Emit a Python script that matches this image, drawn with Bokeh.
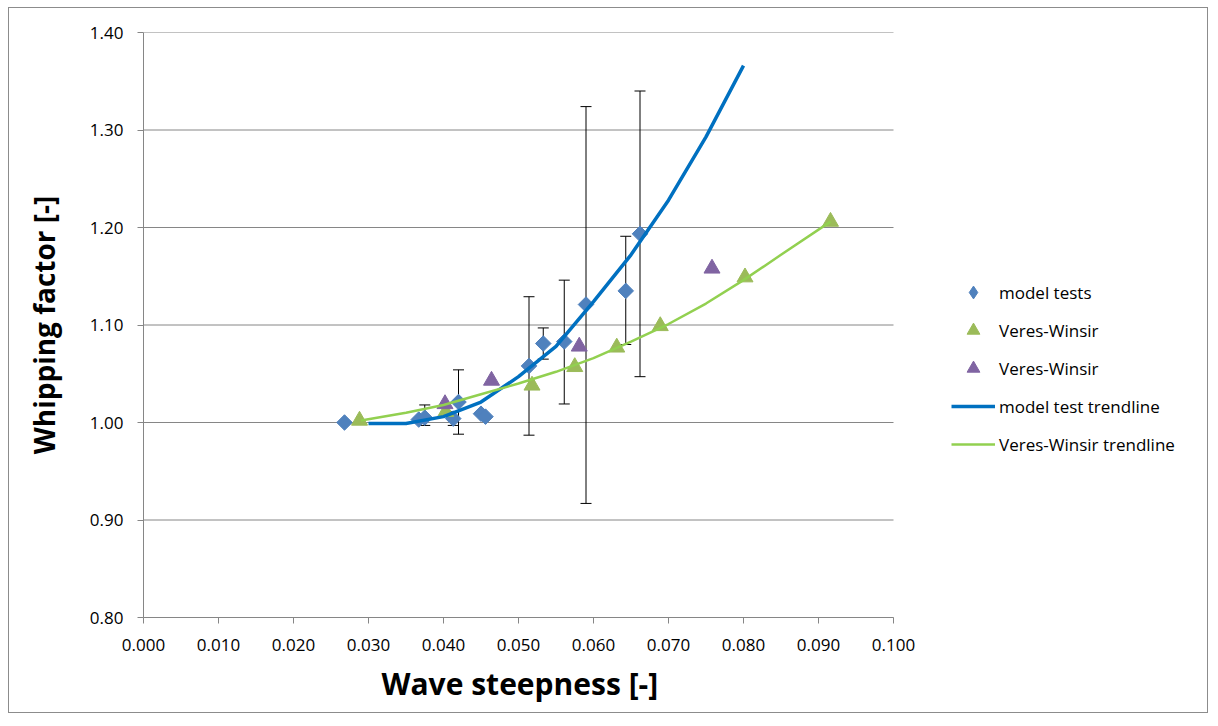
from bokeh.plotting import figure
from bokeh.models import (ColumnDataSource, Legend, LegendItem, Whisker, TeeHead,
                          FixedTicker, NumeralTickFormatter, Range1d, Title)
from bokeh.embed import file_html
from bokeh.resources import INLINE
import math

# ---------------- data ----------------
model_x = [0.0268, 0.0367, 0.0375, 0.0413, 0.0420, 0.0450, 0.0456, 0.0514, 0.0533, 0.0561, 0.0590, 0.0643, 0.0662]
model_y = [1.000, 1.003, 1.005, 1.004, 1.021, 1.009, 1.006, 1.058, 1.081, 1.083, 1.121, 1.135, 1.1935]

err_x = [0.0375, 0.0413, 0.0420, 0.0514, 0.0533, 0.0561, 0.0590, 0.0643, 0.0662]
err_lo = [0.997, 0.997, 0.988, 0.987, 1.065, 1.019, 0.917, 1.080, 1.047]
err_hi = [1.018, 1.011, 1.054, 1.129, 1.097, 1.146, 1.324, 1.191, 1.340]

vw_x = [0.0288, 0.0403, 0.0518, 0.0575, 0.0631, 0.0689, 0.0802, 0.0916]
vw_y = [1.002, 1.011, 1.038, 1.057, 1.077, 1.099, 1.149, 1.206]

vw2_x = [0.0402, 0.0464, 0.0581, 0.0758]
vw2_y = [1.019, 1.043, 1.078, 1.158]

mt_x = [0.030, 0.035, 0.040, 0.045, 0.050, 0.055, 0.060, 0.065, 0.070, 0.075, 0.080]
mt_y = [0.999, 0.999, 1.006, 1.021, 1.047, 1.078, 1.124, 1.172, 1.228, 1.293, 1.366]

vt_x = [0.029, 0.035, 0.040, 0.045, 0.050, 0.055, 0.060, 0.065, 0.070, 0.075, 0.080, 0.085, 0.0916]
vt_y = [1.002, 1.010, 1.018, 1.029, 1.040, 1.052, 1.066, 1.083, 1.101, 1.122, 1.146, 1.172, 1.206]

x_ticks = [0.0, 0.01, 0.02, 0.03, 0.04, 0.05, 0.06, 0.07, 0.08, 0.09, 0.10]
y_ticks = [0.8, 0.9, 1.0, 1.1, 1.2, 1.3, 1.4]

series_names = ["model tests", "Veres-Winsir", "Veres-Winsir",
                "model test trendline", "Veres-Winsir trendline"]
x_title = "Wave steepness [-]"
y_title = "Whipping factor [-]"

FONT = "Open Sans"
GRID = "#868686"

# layout: plot area 750 px wide for x in [0, 0.1]; frame extended to the right
# so that the legend (drawn inside the frame region) is not clipped
W, H = 1200, 706
BL, BR, BT, BB = 134, 10, 24, 97
AREA_W = 750
x_end = x_ticks[-1] * (W - BL - BR) / AREA_W

p = figure(width=W, height=H, output_backend="svg", toolbar_location=None,
           x_range=Range1d(0, x_end), y_range=Range1d(y_ticks[0], y_ticks[-1]),
           min_border_left=BL, min_border_right=BR, min_border_top=BT, min_border_bottom=BB)
p.styles = {"border": "1px solid #8c8c8c", "margin": "7px 0 0 8px"}
p.outline_line_color = None
p.background_fill_color = "white"
p.border_fill_color = "white"

p.xgrid.grid_line_color = None
p.ygrid.grid_line_color = None
# horizontal gridlines only across the axis extent
p.segment(x0=[x_ticks[0]] * len(y_ticks), x1=[x_ticks[-1]] * len(y_ticks),
          y0=y_ticks, y1=y_ticks, line_color=GRID, line_width=1, level="underlay")

p.xaxis.ticker = FixedTicker(ticks=x_ticks)
p.yaxis.ticker = FixedTicker(ticks=y_ticks)
p.xaxis.bounds = (x_ticks[0], x_ticks[-1])
p.xaxis.formatter = NumeralTickFormatter(format="0.000")
p.yaxis.formatter = NumeralTickFormatter(format="0.00")
for ax in (p.xaxis, p.yaxis):
    ax.axis_line_color = GRID
    ax.major_tick_line_color = GRID
    ax.minor_tick_line_color = None
    ax.major_tick_in = 0
    ax.major_tick_out = 6
    ax.major_label_text_font = FONT
    ax.major_label_text_font_size = "17px"
    ax.major_label_text_color = "#000000"
    ax.axis_label_text_font = FONT
    ax.axis_label_text_font_style = "bold"
    ax.axis_label_text_color = "#000000"
p.xaxis.major_label_standoff = 15
p.yaxis.major_label_standoff = 14
p.yaxis.axis_label = y_title
p.yaxis.axis_label_text_font_size = "28px"
p.yaxis.axis_label_standoff = 24

# x-axis title centred under the 0 - 0.1 axis extent
xt = Title(text=x_title, align="left", offset=238, text_font=FONT, text_font_size="30px",
           text_font_style="bold", text_color="#000000", standoff=15)
p.add_layout(xt, "below")

# error bars
esrc = ColumnDataSource(dict(x=err_x, lo=err_lo, hi=err_hi))
wh = Whisker(source=esrc, base="x", lower="lo", upper="hi", line_color="black", line_width=1,
             upper_head=TeeHead(size=11, line_color="black", line_width=1),
             lower_head=TeeHead(size=11, line_color="black", line_width=1),
             level="underlay")
p.add_layout(wh)

BLUE, GREEN, PURPLE = "#4F81BD", "#9BBB59", "#8064A2"
# narrow diamonds (hidden under the rotated squares) supply the legend glyph
r_model_leg = p.scatter(model_x, model_y, marker="diamond", size=8, fill_color=BLUE, line_color=BLUE)
r_model = p.scatter(model_x, model_y, marker="square", size=11, angle=math.pi / 4,
                    fill_color=BLUE, line_color=BLUE)
r_vw = p.scatter(vw_x, vw_y, marker="triangle", size=16, fill_color=GREEN, line_color=GREEN)
r_vw2 = p.scatter(vw2_x, vw2_y, marker="triangle", size=16, fill_color=PURPLE, line_color=PURPLE)
r_mt = p.line(mt_x, mt_y, line_color="#0070C0", line_width=3.5)
r_vt = p.line(vt_x, vt_y, line_color="#92D050", line_width=2.5)

legend = Legend(items=[LegendItem(label=series_names[0], renderers=[r_model_leg]),
                       LegendItem(label=series_names[1], renderers=[r_vw]),
                       LegendItem(label=series_names[2], renderers=[r_vw2]),
                       LegendItem(label=series_names[3], renderers=[r_mt]),
                       LegendItem(label=series_names[4], renderers=[r_vt])],
                location=(808, 157), orientation="vertical",
                border_line_color=None, background_fill_alpha=0,
                padding=0, margin=0, spacing=6, glyph_width=44, glyph_height=32,
                label_height=32, label_standoff=4,
                label_text_font=FONT, label_text_font_size="17px", label_text_color="#000000")
p.add_layout(legend)

open("out.html", "w").write(file_html(p, INLINE))
